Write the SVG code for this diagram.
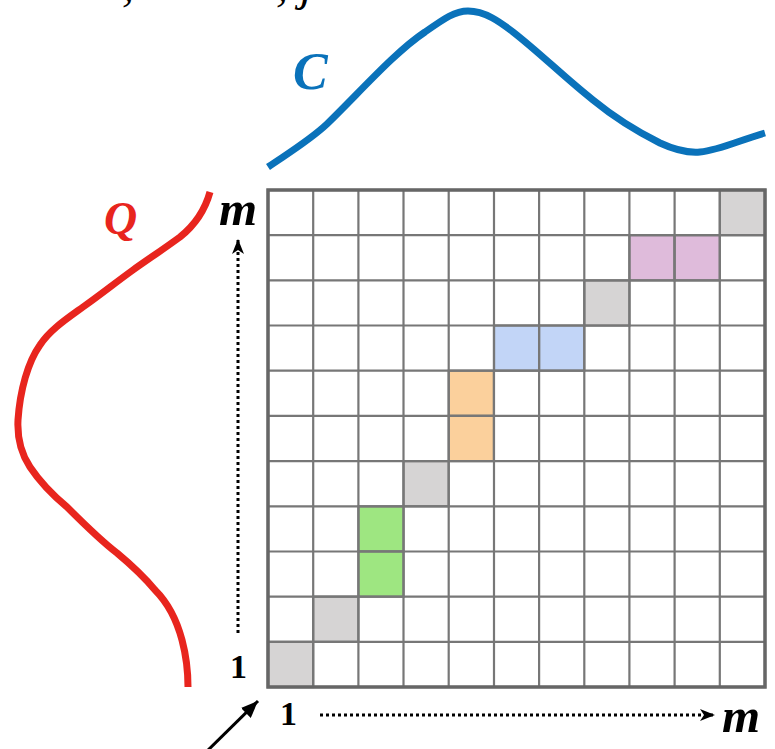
<svg xmlns="http://www.w3.org/2000/svg" width="775" height="749" viewBox="0 0 775 749">
<style>
.cell{stroke:#777;stroke-width:2.2}
.w{fill:#ffffff}
.g{fill:#d6d4d4}
.p{fill:#dfbbdb}
.b{fill:#c2d5f7}
.o{fill:#fbd09c}
.gr{fill:#9ee681}
.lbl{font-family:"Liberation Serif",serif;font-weight:bold;font-style:italic}
.num{font-family:"Liberation Serif",serif;font-weight:bold}
.curve{fill:none;stroke-width:7;stroke-linecap:butt}
.dot{stroke:#000;stroke-width:3;stroke-dasharray:3 3;fill:none}
</style>
<defs>
<marker id="ah" markerUnits="userSpaceOnUse" markerWidth="16" markerHeight="12" refX="15" refY="6" orient="auto">
<path d="M0,0 L15,6 L0,12 L4,6 z" fill="#000"/>
</marker>
<marker id="ah2" markerUnits="userSpaceOnUse" markerWidth="18" markerHeight="14" refX="17" refY="7" orient="auto">
<path d="M0,0 L17,7 L0,14 z" fill="#000"/>
</marker>
</defs>
<rect width="775" height="749" fill="#ffffff"/>
<g id="top-text" fill="#000" font-family="Liberation Serif, serif" font-style="italic" font-size="48">
<text x="122" y="0">,</text>
<text x="208" y="-4" font-style="normal">≤</text>
<text x="276" y="0">, j</text>
<text x="318" y="-4" font-style="normal">≤</text>
</g>
<g id="matrix">
<g id="grid-cells">
<rect class="cell w" x="268" y="190" width="497" height="497"/>
</g>
<g id="highlight" class="cell">
<rect class="g" x="719.8" y="190" width="45.2" height="45.2"/>
<rect class="p" x="629.4" y="235.2" width="45.2" height="45.2"/>
<rect class="p" x="674.6" y="235.2" width="45.2" height="45.2"/>
<rect class="g" x="584.3" y="280.4" width="45.2" height="45.2"/>
<rect class="b" x="494" y="325.5" width="45.2" height="45.2"/>
<rect class="b" x="539.1" y="325.5" width="45.2" height="45.2"/>
<rect class="o" x="448.7" y="370.7" width="45.2" height="45.2"/>
<rect class="o" x="448.7" y="415.9" width="45.2" height="45.2"/>
<rect class="g" x="403.5" y="461.1" width="45.2" height="45.2"/>
<rect class="gr" x="358.4" y="506.3" width="45.2" height="45.2"/>
<rect class="gr" x="358.4" y="551.5" width="45.2" height="45.2"/>
<rect class="g" x="313.2" y="596.6" width="45.2" height="45.2"/>
<rect class="g" x="268" y="641.8" width="45.2" height="45.2"/>
</g>
<g id="gridlines" stroke="#777" stroke-width="2.2">
<path d="M313.2,190V687M358.4,190V687M403.5,190V687M448.7,190V687M494,190V687M539.1,190V687M584.3,190V687M629.4,190V687M674.6,190V687M719.8,190V687"/>
<path d="M268,235.2H765M268,280.4H765M268,325.5H765M268,370.7H765M268,415.9H765M268,461.1H765M268,506.3H765M268,551.5H765M268,596.6H765M268,641.8H765"/>
</g>
<rect id="border" x="268" y="190" width="497" height="497" fill="none" stroke="#666" stroke-width="3.5"/>
</g>
<g id="curve-C">
<path class="curve" stroke="#0a72ba" d="M268,167 C290,152 310,140 327,124 C360,92 395,52 425,32 C445,18 455,11 468,11 C485,11 500,22 513,32 C540,53 565,78 593,100 C615,118 640,133 660,143 C675,150 688,153 700,152 C720,150 740,140 765,133"/>
<text class="lbl" x="293" y="89" font-size="52" fill="#0a72ba">C</text>
</g>
<g id="curve-Q">
<path class="curve" stroke="#e8251e" d="M210,192 C205,210 195,225 180,237 C165,248 150,258 133,270 C115,283 100,295 83,307 C65,320 50,330 40,345 C28,362 20,390 18,420 C17,440 22,455 30,467 C42,485 55,497 67,507 C85,525 100,540 117,553 C135,568 145,578 155,590 C170,605 178,625 182,640 C186,655 188,670 188,687"/>
<text class="lbl" x="104" y="234" font-size="46" fill="#e8251e">Q</text>
</g>
<g id="axis-labels" fill="#000">
<text class="lbl" x="219" y="225" font-size="49">m</text>
<text class="lbl" x="722" y="732" font-size="49">m</text>
<text class="num" x="230" y="678" font-size="34">1</text>
<text class="num" x="280" y="725" font-size="34">1</text>
</g>
<g id="connectors">
<line class="dot" x1="238" y1="633" x2="238" y2="239" marker-end="url(#ah)"/>
<line class="dot" x1="320" y1="715" x2="715" y2="715" marker-end="url(#ah)"/>
<line x1="200" y1="758" x2="258" y2="701" stroke="#000" stroke-width="3" marker-end="url(#ah2)"/>
</g>
</svg>
